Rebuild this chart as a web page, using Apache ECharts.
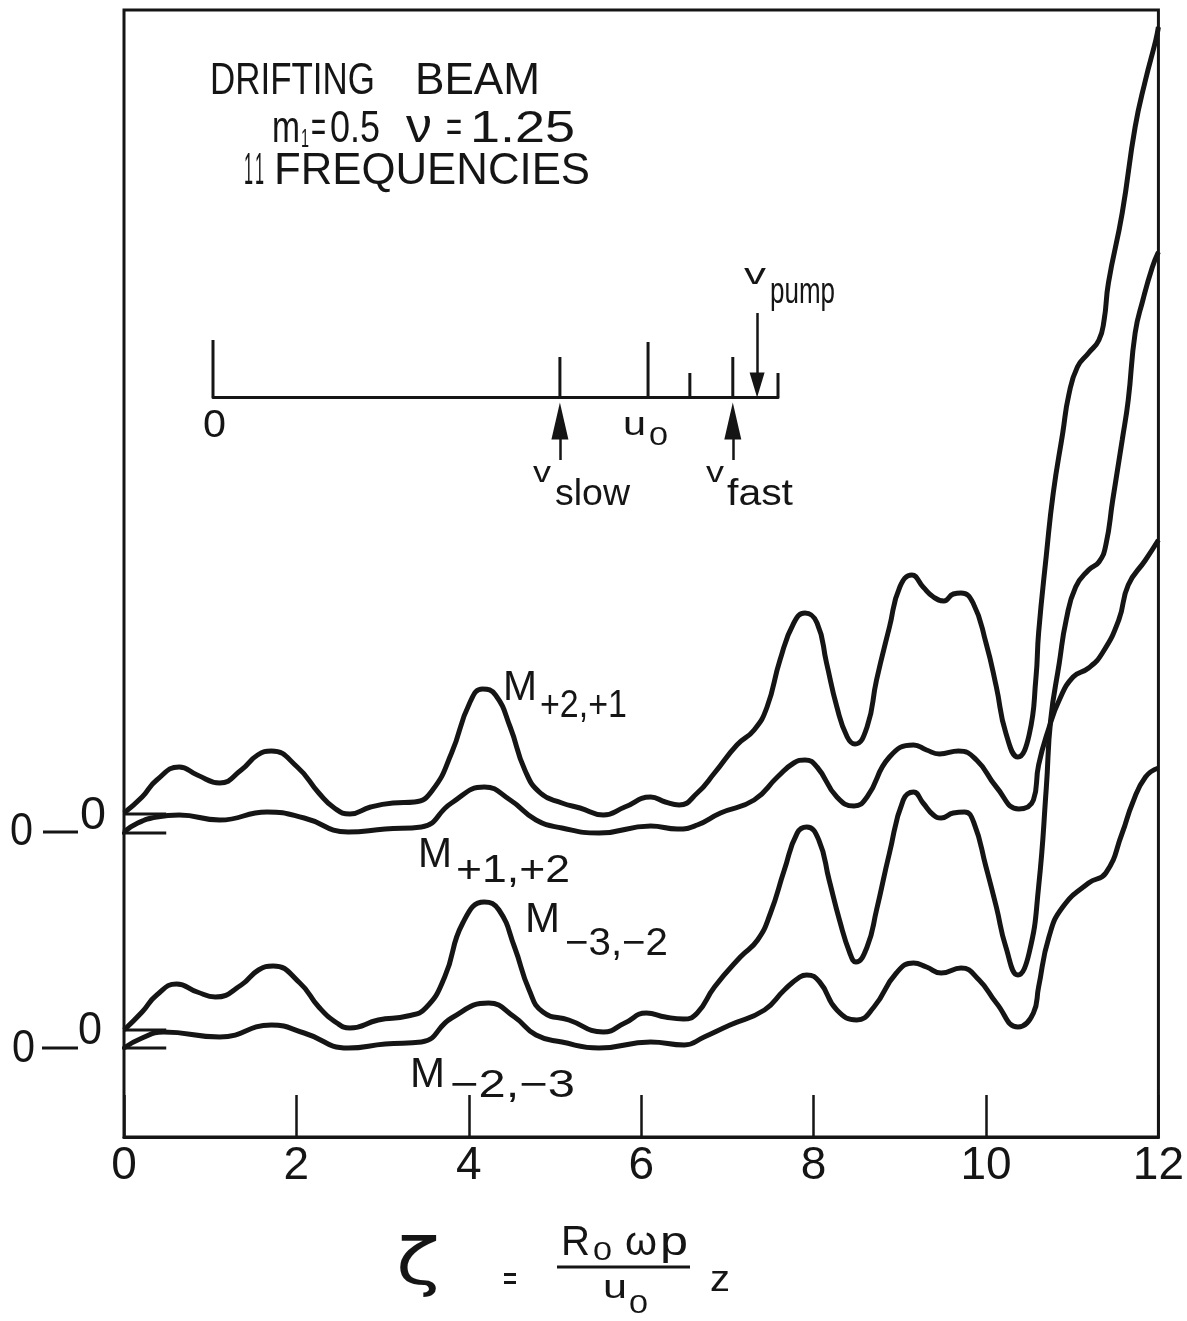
<!DOCTYPE html>
<html><head><meta charset="utf-8">
<script src="https://cdn.jsdelivr.net/npm/echarts@6/dist/echarts.min.js"></script>
<style>html,body{margin:0;padding:0;background:#fff}#c{width:1187px;height:1321px}</style>
</head><body><div id="c"></div>
<script>
// ---------- data ----------
const xTickLabels = [0, 2, 4, 6, 8, 10, 12];

// M+2,+1
const mP21 = [[0,32.4],[0.21,34.0],[0.38,35.7],[0.64,37.0],[0.85,36.2],[1.11,35.4],[1.36,36.7],[1.55,38.2],[1.71,38.6],[2.01,37.0],[2.26,34.4],[2.44,32.9],[2.62,32.3],[2.86,33.0],[3.12,33.4],[3.37,33.5],[3.58,34.7],[3.80,38.4],[4.01,43.4],[4.16,44.8],[4.31,44.2],[4.48,41.0],[4.65,36.7],[4.83,34.4],[5.08,33.4],[5.29,32.9],[5.56,32.2],[5.81,33.0],[6.11,34.0],[6.28,33.5],[6.44,33.2],[6.65,34.4],[6.85,36.4],[7.11,39.2],[7.31,40.7],[7.46,43.0],[7.61,47.7],[7.77,51.4],[7.90,52.4],[8.04,51.4],[8.15,47.4],[8.27,43.0],[8.39,40.0],[8.48,39.3],[8.62,41.0],[8.73,45.7],[8.88,51.0],[9.00,55.0],[9.14,56.2],[9.27,55.0],[9.39,54.0],[9.51,53.6],[9.62,54.3],[9.71,54.4],[9.85,53.4],[10.00,49.4],[10.12,45.0],[10.23,40.4],[10.37,38.0],[10.50,40.2],[10.58,46.0],[10.61,50.4],[10.70,58.2],[10.78,64.4],[10.89,70.4],[10.96,74.2],[11.06,77.0],[11.19,78.4],[11.31,79.7],[11.37,81.7],[11.42,85.4],[11.58,92.4],[11.73,101.0],[11.85,105.7],[11.97,109.7],[12.00,111.0]];
// M+1,+2
const mP12 = [[0,30.5],[0.16,31.4],[0.38,32.0],[0.64,32.2],[1.11,31.7],[1.66,32.5],[2.09,31.9],[2.60,30.5],[3.03,30.8],[3.45,31.0],[3.80,33.4],[4.18,35.0],[4.48,33.7],[4.78,31.7],[5.08,30.9],[5.51,30.4],[6.11,31.1],[6.42,30.8],[6.65,31.2],[6.92,32.4],[7.31,33.7],[7.58,36.0],[7.77,37.4],[7.90,37.7],[8.04,37.0],[8.27,34.0],[8.47,33.1],[8.62,34.0],[8.88,38.0],[9.16,39.2],[9.31,38.7],[9.46,38.3],[9.68,38.6],[9.89,37.7],[10.12,35.0],[10.38,32.8],[10.55,33.7],[10.61,37.2],[10.73,40.9],[10.85,43.7],[11.01,46.0],[11.19,46.9],[11.35,48.4],[11.54,51.7],[11.65,55.2],[11.85,57.7],[12.00,59.7]];
// M-3,-2
const mM32 = [[0,10.7],[0.21,12.5],[0.38,14.2],[0.61,15.3],[0.85,14.5],[1.06,14.0],[1.36,15.2],[1.56,16.7],[1.73,17.1],[2.04,15.4],[2.26,13.0],[2.47,11.4],[2.62,10.9],[2.95,11.7],[3.29,12.1],[3.50,12.9],[3.72,16.0],[3.93,21.4],[4.18,23.5],[4.35,22.7],[4.53,19.0],[4.70,14.7],[4.86,12.5],[5.16,11.7],[5.56,10.5],[5.81,11.4],[6.06,12.4],[6.28,12.0],[6.49,11.8],[6.65,12.4],[6.85,15.0],[7.15,18.0],[7.35,19.7],[7.50,22.4],[7.66,26.7],[7.81,30.4],[7.92,31.0],[8.06,29.7],[8.18,25.7],[8.30,21.7],[8.42,18.4],[8.49,17.5],[8.62,19.0],[8.73,22.7],[8.88,28.4],[9.04,33.7],[9.16,34.5],[9.27,33.4],[9.39,32.2],[9.48,31.9],[9.62,32.4],[9.75,32.5],[9.86,31.4],[10.00,27.0],[10.12,23.0],[10.23,19.0],[10.37,16.2],[10.50,18.4],[10.61,25.0],[10.70,35.0],[10.75,41.7],[10.85,47.4],[10.93,51.7],[11.04,55.0],[11.19,56.7],[11.31,57.5],[11.39,59.2],[11.47,63.7],[11.58,69.7],[11.65,73.7],[11.73,80.4],[11.82,83.7],[11.93,87.0],[12.00,88.5]];
// M-2,-3
const mM23 = [[0,8.9],[0.21,9.9],[0.46,10.5],[1.11,10.0],[1.71,11.2],[2.09,10.4],[2.60,8.9],[3.03,9.3],[3.45,9.5],[3.80,11.9],[4.23,13.4],[4.53,12.0],[4.78,10.2],[5.08,9.5],[5.51,8.9],[6.11,9.5],[6.50,9.2],[6.73,10.0],[7.03,11.2],[7.43,12.7],[7.66,14.7],[7.84,16.0],[7.92,16.2],[8.07,15.5],[8.27,12.7],[8.50,11.7],[8.70,13.0],[8.96,16.4],[9.16,17.4],[9.31,17.0],[9.48,16.4],[9.71,16.9],[9.92,15.7],[10.12,13.4],[10.37,11.0],[10.55,12.4],[10.61,15.0],[10.73,20.0],[10.89,23.0],[11.19,25.4],[11.39,26.4],[11.58,30.4],[11.70,33.4],[11.85,36.0],[12.00,36.9]];

// zero reference levels of the four curves and their short marks
const zeroLevels = [32.3, 30.4, 10.7, 8.9];
const zeroStarts = [0, -0.24, 0, -0.24];
const zeroEnd = 0.49;

// inset velocity diagram (normalised velocity scale 0..1)
const insetTickPos = [0, 0.614, 0.770, 0.844, 0.920, 1.0];
const insetTickHeights = [57, 40, 55, 24, 40, 24];
const arrowUpPos = [0.614, 0.920];   // v_slow, v_fast
const arrowDownPos = [0.963];        // v_pump

// ---------- helpers ----------
const INK = '#151515';
const mctx = document.createElement('canvas').getContext('2d');
function T(text, left, right, baseline, size, family) {
  family = family || '"Liberation Sans", Arial, sans-serif';
  const font = size + 'px ' + family;
  mctx.font = font;
  const w = mctx.measureText(text).width;
  return {
    type: 'text', x: left, y: baseline - 0.3465 * size, scaleX: (right - left) / w, silent: true,
    style: { text: text, font: font, fill: INK, textAlign: 'left', textVerticalAlign: 'middle' }
  };
}
function L(x1, y1, x2, y2, w) {
  return { type: 'line', silent: true, shape: { x1, y1, x2, y2 }, style: { stroke: INK, lineWidth: w || 3 } };
}

const graphics = [
  // title block
  T('DRIFTING', 210, 375, 97, 44),
  T('BEAM', 415, 540, 97, 44),
  T('m', 272, 300, 145, 44),
  T('1', 301, 309, 149, 26),
  T('=', 311, 326, 145, 44),
  T('0.5', 330, 380, 145, 44),
  T('ν', 406, 432, 145, 48),
  T('=', 446, 462, 145, 44),
  T('1.25', 470, 575, 145, 44),
  T('1', 244, 253, 187, 44),
  T('1', 255, 264, 187, 44),
  T('FREQUENCIES', 274, 590, 187, 44),
  // inset labels
  T('0', 203, 226, 440, 38),
  T('u', 623, 646, 437, 34),
  T('0', 649, 668, 447, 26),
  T('v', 533, 551, 484, 30),
  T('slow', 555, 630, 508, 36),
  T('v', 706, 724, 484, 30),
  T('fast', 727, 793, 508, 36),
  T('v', 744, 766, 286, 30),
  T('pump', 770, 835, 306, 36),
  // curve labels
  T('M', 503, 537, 703, 42), T('+2,+1', 540, 627, 720, 38),
  T('M', 418, 452, 870, 42), T('+1,+2', 456, 570, 885, 38),
  T('M', 525, 560, 935, 42), T('−3,−2', 565, 668, 958, 38),
  T('M', 410, 445, 1090, 42), T('−2,−3', 450, 575, 1100, 38),
  // zero labels at left
  T('0', 10, 33, 848, 46), L(43, 832, 78, 832, 3), T('0', 80, 106, 832, 46),
  T('0', 12, 35, 1065, 46), L(42, 1048, 78, 1048, 3), T('0', 78, 102, 1047, 46),
  // axis title formula
  T('ζ', 396, 440, 1290, 64, '"DejaVu Sans", sans-serif'),
  { type: 'rect', silent: true, shape: { x: 504, y: 1273, width: 12, height: 3 }, style: { fill: INK } },
  { type: 'rect', silent: true, shape: { x: 504, y: 1281, width: 12, height: 3 }, style: { fill: INK } },
  T('R', 561, 590, 1258, 42),
  T('0', 593, 612, 1262, 26),
  T('ω', 625, 657, 1258, 40),
  T('p', 660, 688, 1258, 40),
  L(557, 1267, 690, 1267, 3),
  T('u', 603, 627, 1300, 34),
  T('0', 629, 648, 1315, 26),
  T('z', 710, 730, 1294, 36)
];

function curve(name, data) {
  return {
    name: name, type: 'line', data: data, smooth: 0.5, symbol: 'none', clip: false,
    lineStyle: { color: INK, width: 5 }, silent: true
  };
}

const series = [
  curve('M+2,+1', mP21),
  curve('M+1,+2', mP12),
  curve('M-3,-2', mM32),
  curve('M-2,-3', mM23)
];
zeroLevels.forEach(function (z, i) {
  series.push({
    type: 'line', data: [[zeroStarts[i], z], [zeroEnd, z]], symbol: 'none', clip: false, silent: true,
    lineStyle: { color: INK, width: 3 }
  });
});

const arrowData = [];
arrowUpPos.forEach(function (p) {
  arrowData.push([{ coord: [p, -63], symbol: 'none' }, { coord: [p, -24], symbol: 'triangle', symbolSize: [17, 37] }]);
});
arrowDownPos.forEach(function (p) {
  arrowData.push([{ coord: [p, 84], symbol: 'none' }, { coord: [p, 12], symbol: 'triangle', symbolSize: [15, 25] }]);
});

series.push({
  type: 'bar', xAxisIndex: 1, yAxisIndex: 1, barWidth: 3, silent: true, clip: false,
  data: insetTickPos.map(function (p, i) { return [p, insetTickHeights[i]]; }),
  itemStyle: { color: INK },
  markLine: {
    silent: true, animation: false, symbol: ['none', 'triangle'],
    label: { show: false },
    lineStyle: { color: INK, width: 2.5, type: 'solid' },
    emphasis: { disabled: true },
    data: arrowData
  }
});

const chart = echarts.init(document.getElementById('c'), null, { renderer: 'canvas' });
chart.setOption({
  animation: false,
  backgroundColor: '#ffffff',
  grid: [
    { left: 124, right: 24, top: 10, bottom: 184, show: true, borderColor: INK, borderWidth: 3, backgroundColor: 'transparent' },
    { left: 213, right: 409, top: 300, height: 170, show: false }
  ],
  xAxis: [
    {
      type: 'value', min: 0, max: 12, interval: 2, gridIndex: 0,
      axisLine: { show: true, onZero: false, lineStyle: { color: INK, width: 3 } },
      axisTick: { show: true, inside: true, length: 42, lineStyle: { color: INK, width: 2.5 } },
      axisLabel: {
        show: true, margin: 6, color: INK, fontSize: 46, fontFamily: '"Liberation Sans", Arial, sans-serif',
        formatter: function (v) { return xTickLabels.indexOf(v) >= 0 ? String(v) : ''; }
      },
      splitLine: { show: false }
    },
    {
      type: 'value', min: 0, max: 1, gridIndex: 1,
      axisLine: { show: true, onZero: true, lineStyle: { color: INK, width: 3 } },
      axisTick: { show: false }, axisLabel: { show: false }, splitLine: { show: false }
    }
  ],
  yAxis: [
    { type: 'value', min: 0, max: 112.7, gridIndex: 0, axisLine: { show: false }, axisTick: { show: false }, axisLabel: { show: false }, splitLine: { show: false } },
    { type: 'value', min: -73, max: 97, gridIndex: 1, axisLine: { show: false }, axisTick: { show: false }, axisLabel: { show: false }, splitLine: { show: false } }
  ],
  series: series,
  graphic: graphics
});
</script>
</body></html>
